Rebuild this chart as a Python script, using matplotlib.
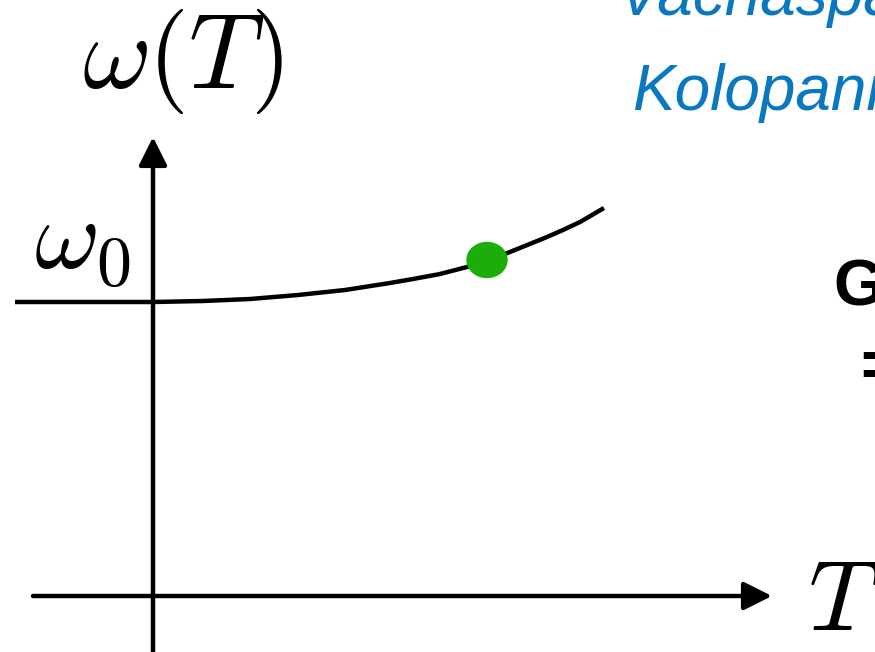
import matplotlib
matplotlib.use("Agg")
import matplotlib.pyplot as plt
from matplotlib.patches import Ellipse

plt.rcParams['mathtext.fontset'] = 'cm'

# curve omega(T) (arbitrary units)
T_flat = [-1.38, 0.0]
w_flat = [2.94, 2.94]
T_curve = [0.0, 0.5, 0.97, 1.45, 1.92, 2.37, 2.6, 2.87, 3.14, 3.34, 3.52, 3.94, 4.1, 4.27, 4.51]
w_curve = [2.94, 2.95, 2.97, 3.01, 3.06, 3.13, 3.17, 3.22, 3.29, 3.35, 3.42, 3.59, 3.66, 3.74, 3.88]

# green marker
T_dot = 3.34
w_dot = 3.36

# axis arrows
x_axis = (-1.20, 6.19)
y_axis = (-0.60, 4.59)

fig = plt.figure(figsize=(8.75, 6.52), dpi=100)
ax = fig.add_axes([0, 0, 1, 1])
ax.set_xlim(-1.53, 7.22)
ax.set_ylim(-0.56, 5.96)
ax.axis('off')

lw = 3.2
arrow = dict(arrowstyle='-|>,head_length=0.4,head_width=0.2', lw=lw, color='black',
             mutation_scale=43, shrinkA=0, shrinkB=0)
ax.annotate('', xy=(x_axis[1], 0), xytext=(x_axis[0], 0), arrowprops=arrow)
ax.annotate('', xy=(0, y_axis[1]), xytext=(0, y_axis[0]), arrowprops=arrow)

ax.plot(T_flat, w_flat, color='black', lw=lw, solid_capstyle='butt')
ax.plot(T_curve, w_curve, color='black', lw=lw, solid_capstyle='butt',
        solid_joinstyle='round')

ax.add_patch(Ellipse((T_dot, w_dot), 0.40, 0.35, color='#1cad08', zorder=5))

ax.text(0.29, 5.34, r'$\omega(T)$', fontsize=76, ha='center', va='center')
ax.text(-0.71, 3.55, r'$\omega_0$', fontsize=72, ha='center', va='center')
ax.text(6.55, -0.06, r'$T$', fontsize=72, ha='left', va='center')

blue = '#0a78c0'
ax.text(4.64, 5.81, 'Vachaspati', fontsize=46, style='italic', color=blue,
        family='Liberation Sans', ha='left', va='baseline')
ax.text(4.79, 4.86, 'Kolopanis', fontsize=46, style='italic', color=blue,
        family='Liberation Sans', ha='left', va='baseline')

ax.text(6.80, 2.91, 'G', fontsize=47, weight='bold', family='Liberation Sans',
        ha='left', va='baseline')
ax.text(7.07, 2.27, '=', fontsize=47, weight='bold', family='Liberation Sans',
        ha='left', va='center')

fig.savefig('out.png', dpi=100)
